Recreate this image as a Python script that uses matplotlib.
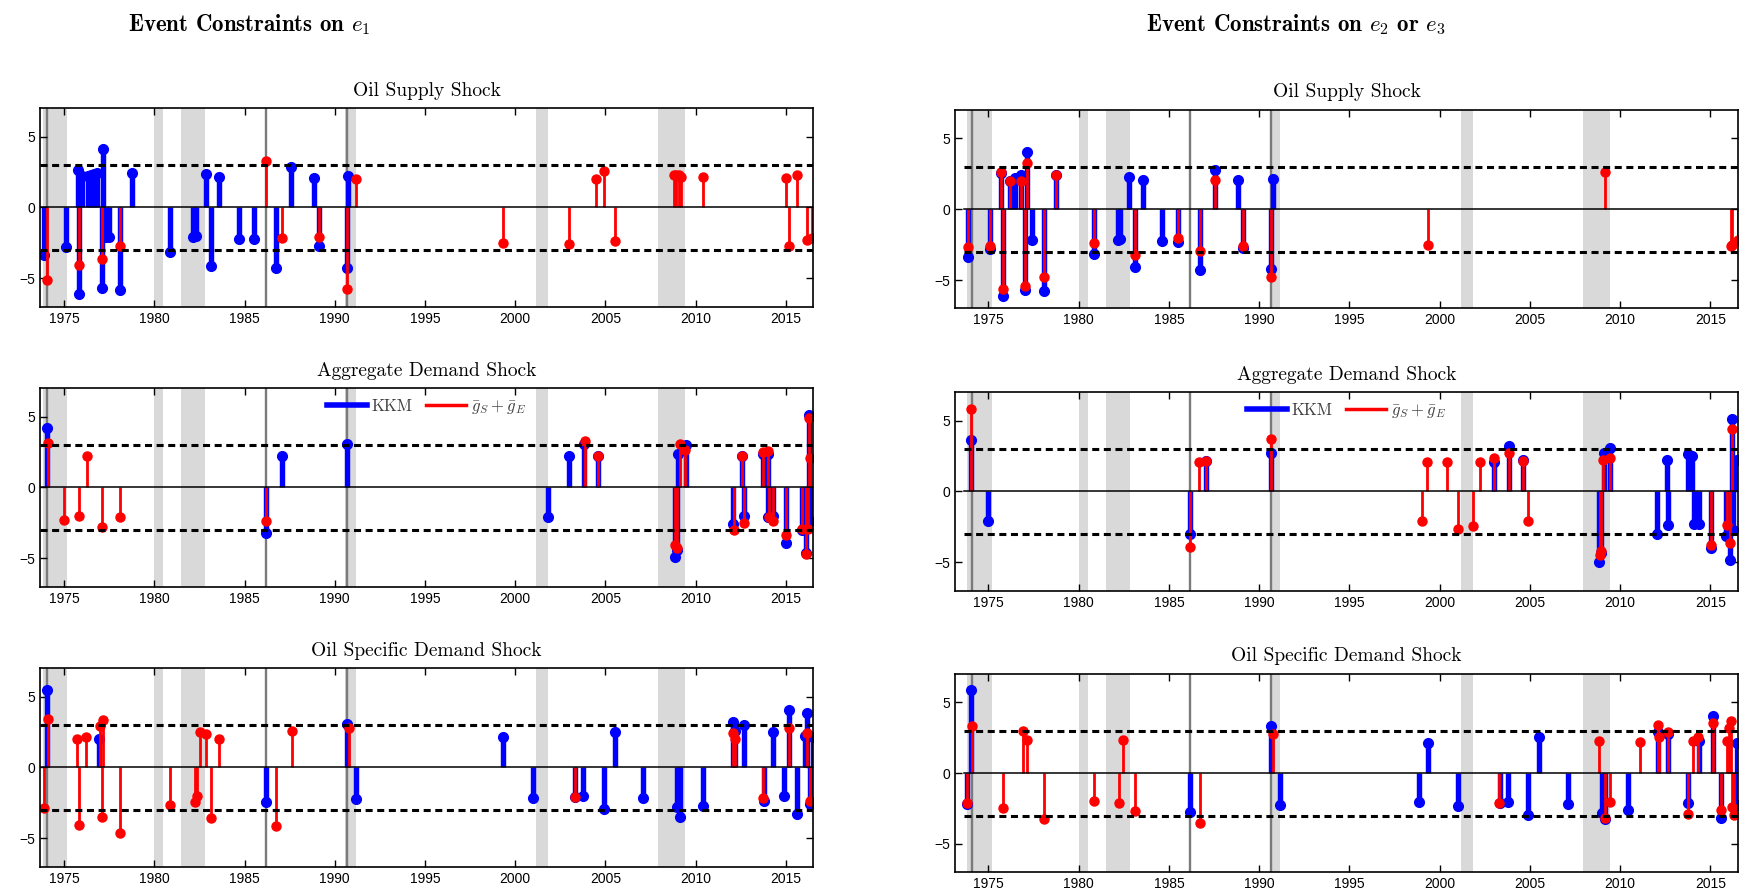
import numpy as np
import matplotlib
matplotlib.use("Agg")
import matplotlib.pyplot as plt
from matplotlib.lines import Line2D

plt.rcParams['mathtext.fontset'] = 'cm'

# NBER recessions and the vertical event markers
recessions = [(1973.83, 1975.17), (1980.0, 1980.5), (1981.5, 1982.83),
              (1990.58, 1991.17), (2001.17, 2001.83), (2007.92, 2009.42)]
event_lines = [1974.08, 1986.17, 1990.67]

# ---- Event constraints on e1 ----
supply_e1_kkm = [(1973.89, -3.33), (1975.09, -2.77), (1975.79, 2.67), (1975.85, -6.09), (1975.98, 2.2),
                 (1976.35, 2.2), (1976.5, 2.3), (1976.65, 2.35), (1976.8, 2.45), (1977.08, -5.65),
                 (1977.18, 4.1), (1977.35, -2.1), (1977.5, -2.1), (1978.08, -5.81), (1978.78, 2.44),
                 (1980.85, -3.16), (1982.16, -2.1), (1982.32, -2.0), (1982.84, 2.34), (1983.17, -4.1),
                 (1983.58, 2.11), (1984.69, -2.23), (1985.52, -2.25), (1986.77, -4.29), (1987.60, 2.86),
                 (1988.84, 2.04), (1989.11, -2.72), (1990.68, -4.24), (1990.74, 2.2)]
supply_e1_g = [(1974.08, -5.13), (1975.85, -4.05), (1977.08, -3.66), (1978.08, -2.7), (1986.18, 3.26),
               (1987.10, -2.13), (1989.11, -2.1), (1990.68, -5.74), (1991.18, 2.0), (1999.32, -2.48),
               (2002.99, -2.58), (2004.50, 2.02), (2004.93, 2.58), (2005.50, -2.34), (2008.80, 2.3),
               (2008.93, 2.3), (2009.06, 2.27), (2009.20, 2.15), (2010.42, 2.18), (2015.02, 2.04),
               (2015.17, -2.7), (2015.61, 2.3), (2016.16, -2.3), (2016.44, -2.16)]

demand_e1_kkm = [(1974.08, 4.2), (1986.18, -3.23), (1987.10, 2.2), (1990.68, 3.1), (2001.83, -2.09),
                 (2002.99, 2.25), (2003.82, 3.1), (2004.59, 2.2), (2008.85, -4.92), (2008.95, -4.4),
                 (2009.02, 2.39), (2009.45, 2.98), (2012.07, -2.6), (2012.58, 2.2), (2012.66, -2.02),
                 (2013.73, 2.34), (2014.0, 2.34), (2014.02, -2.06), (2014.3, -2.0), (2015.02, -3.94),
                 (2015.89, -3.0), (2016.13, -4.64), (2016.25, 5.08), (2016.31, -2.34)]
demand_e1_g = [(1974.11, 3.14), (1975.0, -2.3), (1975.85, -2.02), (1976.27, 2.2), (1977.08, -2.77),
               (1978.08, -2.1), (1986.18, -2.39), (2003.85, 3.26), (2004.59, 2.2), (2008.87, -4.05),
               (2008.95, -4.3), (2009.15, 3.1), (2009.43, 2.67), (2012.11, -3.0), (2012.58, 2.2),
               (2012.68, -2.53), (2013.75, 2.5), (2014.0, 2.55), (2014.05, -2.1), (2014.3, -2.37),
               (2015.02, -3.35), (2015.89, -2.95), (2016.13, -4.71), (2016.2, -2.95), (2016.25, 4.92),
               (2016.33, 2.11)]

oilspec_e1_kkm = [(1974.08, 5.48), (1976.94, 2.02), (1986.18, -2.46), (1990.68, 3.1), (1991.18, -2.25),
                  (1999.32, 2.16), (2000.99, -2.13), (2003.33, -2.1), (2003.76, -2.02), (2004.93, -2.9),
                  (2005.50, 2.48), (2007.08, -2.13), (2008.97, -2.77), (2009.15, -3.47), (2010.42, -2.7),
                  (2012.07, 3.21), (2012.16, 2.6), (2012.68, 2.98), (2013.76, -2.39), (2014.30, 2.53),
                  (2014.89, -2.02), (2015.17, 4.08), (2015.61, -3.28), (2016.03, 2.25), (2016.16, 3.87),
                  (2016.31, -2.58), (2016.49, 2.16)]
oilspec_e1_g = [(1973.89, -2.88), (1974.11, 3.44), (1975.70, 2.0), (1975.85, -4.03), (1976.20, 2.16),
                (1976.97, 2.95), (1977.08, -3.47), (1977.18, 3.33), (1978.08, -4.64), (1980.87, -2.67),
                (1982.25, -2.41), (1982.38, -2.02), (1982.51, 2.48), (1982.86, 2.34), (1983.17, -3.54),
                (1983.60, 2.0), (1986.75, -4.1), (1987.62, 2.55), (1990.77, 2.81), (2003.32, -2.1),
                (2012.07, 2.46), (2012.16, 2.04), (2013.73, -2.18), (2015.17, 2.81), (2016.16, 2.44),
                (2016.31, -2.37)]

# ---- Event constraints on e2 or e3 ----
supply_e23_kkm = [(1973.89, -3.39), (1975.06, -2.8), (1975.70, 2.57), (1975.79, -6.12), (1976.2, 2.0),
                  (1976.48, 2.2), (1976.81, 2.4), (1977.03, -5.68), (1977.16, 4.04), (1977.40, -2.17),
                  (1978.05, -5.79), (1978.73, 2.4), (1980.82, -3.15), (1982.15, -2.2), (1982.3, -2.1),
                  (1982.81, 2.27), (1983.13, -4.09), (1983.55, 2.08), (1984.64, -2.22), (1985.49, -2.34),
                  (1986.73, -4.28), (1987.56, 2.8), (1988.82, 2.03), (1989.10, -2.76), (1990.67, -4.21),
                  (1990.74, 2.15)]
supply_e23_g = [(1973.89, -2.64), (1975.06, -2.57), (1975.70, 2.62), (1975.79, -5.65), (1976.2, 1.99),
                (1976.81, 1.99), (1977.03, -5.44), (1977.16, 3.27), (1978.05, -4.79), (1978.73, 2.4),
                (1980.82, -2.41), (1983.13, -3.2), (1985.49, -2.06), (1986.73, -2.97), (1987.56, 2.06),
                (1989.10, -2.57), (1990.67, -4.79), (1999.34, -2.5), (2009.17, 2.62), (2016.13, -2.62),
                (2016.2, -2.5), (2016.5, -2.17)]

demand_e23_kkm = [(1974.04, 3.62), (1974.96, -2.1), (1986.14, -2.99), (1987.06, 2.17), (1990.67, 2.73),
                  (2003.0, 2.1), (2003.82, 3.2), (2004.59, 2.2), (2008.84, -4.98), (2008.93, -4.32),
                  (2009.1, 2.69), (2009.43, 3.04), (2012.05, -2.97), (2012.6, 2.2), (2012.65, -2.38),
                  (2013.76, 2.62), (2014.0, 2.52), (2014.08, -2.27), (2014.35, -2.29), (2015.02, -3.97),
                  (2015.85, -3.15), (2016.07, -4.84), (2016.22, 5.14), (2016.27, -2.69), (2016.46, 2.2)]
demand_e23_g = [(1974.04, 5.79), (1986.14, -3.9), (1986.64, 2.1), (1987.06, 2.17), (1990.67, 3.67),
                (1999.0, -2.1), (1999.28, 2.06), (2000.42, 2.06), (2001.0, -2.64), (2001.83, -2.41),
                (2002.25, 2.1), (2003.0, 2.38), (2003.82, 2.73), (2004.59, 2.15), (2004.91, -2.1),
                (2008.86, -4.51), (2008.95, -4.2), (2009.06, 2.2), (2009.43, 2.38), (2015.02, -3.79),
                (2015.89, -2.38), (2016.07, -3.62), (2016.22, 4.37)]

oilspec_e23_kkm = [(1973.8, -2.2), (1974.04, 5.86), (1986.14, -2.74), (1990.67, 3.3), (1991.16, -2.26),
                   (1998.86, -2.05), (1999.34, 2.14), (2001.0, -2.33), (2003.33, -2.09), (2003.76, -2.05),
                   (2004.91, -2.98), (2005.52, 2.53), (2007.08, -2.21), (2008.97, -2.81), (2009.15, -3.25),
                   (2010.41, -2.63), (2012.07, 2.91), (2012.66, 2.75), (2013.76, -2.12), (2014.35, 2.26),
                   (2015.15, 4.05), (2015.57, -3.14), (2016.48, 2.14), (2016.45, -2.28)]
oilspec_e23_g = [(1973.8, -2.12), (1974.06, 3.35), (1975.79, -2.47), (1976.94, 3.0), (1977.16, 2.3),
                 (1978.05, -3.26), (1980.82, -2.0), (1982.24, -2.12), (1982.48, 2.35), (1983.13, -2.7),
                 (1986.73, -3.49), (1990.74, 2.77), (2003.3, -2.09), (2008.84, 2.26), (2009.15, -3.16),
                 (2009.43, -2.05), (2011.09, 2.19), (2012.07, 3.42), (2012.16, 2.53), (2012.66, 2.91),
                 (2013.76, -2.91), (2014.04, 2.26), (2014.32, 2.53), (2015.15, 3.53), (2015.57, -2.63),
                 (2015.89, 2.26), (2016.03, 3.19), (2016.16, 3.65), (2016.2, -2.4), (2016.3, -2.93)]

titles = ["Oil Supply Shock", "Aggregate Demand Shock", "Oil Specific Demand Shock"]
col_headers = [r"Event Constraints on $e_1$", r"Event Constraints on $e_2$ or $e_3$"]
panels = [[(supply_e1_kkm, supply_e1_g), (demand_e1_kkm, demand_e1_g), (oilspec_e1_kkm, oilspec_e1_g)],
          [(supply_e23_kkm, supply_e23_g), (demand_e23_kkm, demand_e23_g), (oilspec_e23_kkm, oilspec_e23_g)]]

KKM_COL = '#0000ff'
G_COL = '#ff0000'
data_start, data_end = 1973.67, 2016.5

fig = plt.figure(figsize=(17.47, 8.94), dpi=100)

col_x = [(0.0229, 0.4425), (0.5467, 0.4482)]
row_y = [[0.657, 0.3437, 0.0305], [0.655, 0.3393, 0.0243]]
col_xlim = [(1973.67, 2016.5), (1973.15, 2016.53)]


def stems(ax, pts, color, lw, ms, z):
    t = np.array([p[0] for p in pts])
    v = np.array([p[1] for p in pts])
    ax.vlines(t, 0, v, color=color, lw=lw, zorder=z)
    ax.plot(t, v, 'o', color=color, ms=ms, mec=color, zorder=z + 0.5)


for c in range(2):
    for r in range(3):
        x0, w = col_x[c]
        ax = fig.add_axes([x0, row_y[c][r], w, 0.222])
        kkm, g = panels[c][r]

        for a, b in recessions:
            ax.axvspan(a, b, color='#d9d9d9', lw=0, zorder=0)
        for e in event_lines:
            ax.axvline(e, color='#7a7a7a', lw=1.7, zorder=1)

        stems(ax, kkm, KKM_COL, 3.9, 7, 3)
        stems(ax, g, G_COL, 2.0, 6.5, 4)

        ax.plot([data_start, data_end], [0, 0], color='black', lw=1.1, zorder=6)
        for lvl in (3, -3):
            ax.plot([data_start, data_end], [lvl, lvl], color='black', lw=2.2,
                    linestyle=(0, (2.3, 1.5)), zorder=6)

        ax.set_xlim(*col_xlim[c])
        ax.set_ylim(-7, 7)
        ax.set_xticks(np.arange(1975, 2016, 5))
        ax.set_yticks([-5, 0, 5])
        ax.tick_params(direction='in', top=True, right=True, length=5, width=1,
                       labelsize=10)
        for lab in ax.get_xticklabels() + ax.get_yticklabels():
            lab.set_fontfamily('Liberation Sans')
        for sp in ax.spines.values():
            sp.set_linewidth(1.2)
            sp.set_zorder(7)
        ax.set_title(titles[r], fontfamily='cmr10', fontsize=14, pad=9)

        if r == 1:
            handles = [Line2D([], [], color=KKM_COL, lw=4),
                       Line2D([], [], color=G_COL, lw=2.5)]
            leg = ax.legend(handles, ['KKM', r'$\bar{g}_S + \bar{g}_E$'], loc='upper center',
                            ncol=2, frameon=False, handlelength=2.4, handletextpad=0.3,
                            columnspacing=0.8, borderaxespad=0.2,
                            prop={'family': 'cmr10', 'size': 12})
            for txt in leg.get_texts():
                txt.set_color('#404040')

fig.text(0.1425, 0.9726, col_headers[0], ha='center', va='center',
         fontfamily='cmb10', fontsize=16.5)
fig.text(0.742, 0.9726, col_headers[1], ha='center', va='center',
         fontfamily='cmb10', fontsize=16.5)

fig.savefig('out.png', dpi=100)
